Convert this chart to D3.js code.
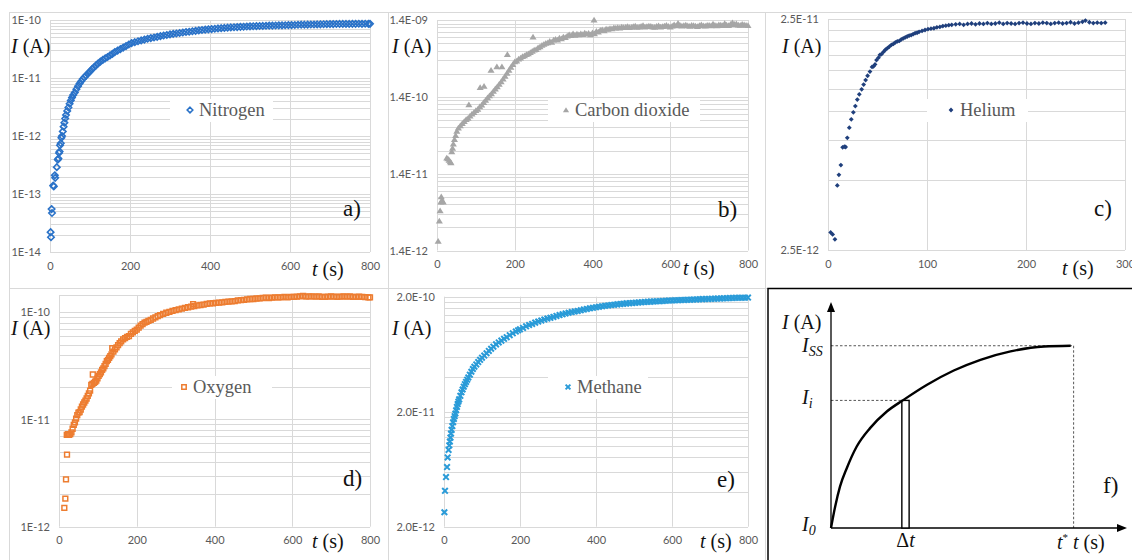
<!DOCTYPE html>
<html>
<head>
<meta charset="utf-8">
<script src="https://cdn.jsdelivr.net/npm/d3@7"></script>
<style>
  body { margin: 0; background: #fff; }
  svg { display: block; }
</style>
</head>
<body>
<svg id="chart" width="1132" height="560"></svg>
<script>
// ---- data: [t (s), I (A)] ----
const nitrogen = [[1.5,2.2e-14],[2.5,1.8e-14],[4,5.5e-14],[5,4.7e-14],[8,1.4e-13],[9.5,1.35e-13],[12,2.1e-13],[13,1.9e-13],
  [17,2.9e-13],[19.5,3.9e-13],[21,4.1e-13],[22.5,5.1e-13],[24,5.4e-13],[25,6.9e-13],[27,7.5e-13],[28.5,9.3e-13],[30,1.0e-12],
  [32,1.2e-12],[34,1.45e-12],[36,1.7e-12],[38,2.0e-12],[40,2.3e-12],[43,2.7e-12],[46,3.1e-12],[49,3.6e-12],[52,4.1e-12],
  [55,4.6e-12],[58,5.1e-12],[62,5.6e-12],[66,6.4e-12],[70,7.2e-12],[74,8.0e-12],[78,8.8e-12],[82,9.6e-12],[86,1.03e-11],
  [90,1.1e-11],[95,1.2e-11],[100,1.3e-11],[105,1.42e-11],[110,1.53e-11],[115,1.65e-11],[120,1.78e-11],[126,1.92e-11],
  [132,2.05e-11],[138,2.18e-11],[144,2.3e-11],[150,2.45e-11],[156,2.6e-11],[162,2.8e-11],[169,2.97e-11],[176,3.15e-11],
  [183,3.35e-11],[190,3.55e-11],[197,3.78e-11],[204,4.0e-11],[212,4.15e-11],[220,4.3e-11],[228,4.45e-11],[236,4.6e-11],
  [244,4.75e-11],[252,4.88e-11],[260,5.0e-11],[268,5.12e-11],[276,5.27e-11],[284,5.4e-11],[292,5.52e-11],[300,5.65e-11],
  [308,5.77e-11],[316,5.86e-11],[324,5.97e-11],[332,6.08e-11],[340,6.2e-11],[348,6.28e-11],[356,6.4e-11],[364,6.5e-11],
  [372,6.62e-11],[380,6.72e-11],[388,6.82e-11],[396,6.9e-11],[404,6.98e-11],[412,7.07e-11],[420,7.15e-11],[428,7.23e-11],
  [436,7.3e-11],[444,7.38e-11],[452,7.45e-11],[460,7.5e-11],[468,7.56e-11],[476,7.62e-11],[484,7.66e-11],[492,7.72e-11],
  [500,7.77e-11],[508,7.8e-11],[516,7.84e-11],[524,7.87e-11],[532,7.9e-11],[540,7.95e-11],[548,8.0e-11],[556,8.02e-11],
  [564,8.05e-11],[572,8.08e-11],[580,8.1e-11],[588,8.13e-11],[596,8.16e-11],[604,8.18e-11],[612,8.21e-11],[620,8.27e-11],
  [628,8.3e-11],[636,8.3e-11],[644,8.32e-11],[652,8.35e-11],[660,8.36e-11],[668,8.4e-11],[676,8.42e-11],[684,8.45e-11],
  [692,8.47e-11],[700,8.5e-11],[708,8.5e-11],[716,8.52e-11],[724,8.55e-11],[732,8.55e-11],[740,8.56e-11],[748,8.56e-11],
  [756,8.6e-11],[764,8.6e-11],[772,8.62e-11],[780,8.6e-11],[788,8.62e-11],[796,8.6e-11],[800,8.6e-11]];

const carbonDioxide = [[3,1.85e-12],[6,3.4e-12],[8,4.6e-12],[10,6.0e-12],[11,7.0e-12],[13,6.3e-12],[16,6.0e-12],
  [25,2.25e-11],[28,2.2e-11],[31,2.1e-11],[34,2.0e-11],[36,1.95e-11],[38,2.7e-11],[40,3.0e-11],[42,3.4e-11],[45,3.9e-11],
  [48,4.4e-11],[51,5.0e-11],[55,5.5e-11],[60,5.9e-11],[65,6.3e-11],[70,6.7e-11],[75,7.1e-11],[80,7.4e-11],[82,1.11e-10],
  [85,7.9e-11],[90,8.4e-11],[95,8.8e-11],[100,9.3e-11],[105,9.7e-11],[110,1.04e-10],[111,1.85e-10],[115,1.1e-10],
  [120,1.18e-10],[121,1.93e-10],[125,1.27e-10],[130,1.36e-10],[135,1.45e-10],[139,3.1e-10],[140,1.54e-10],[145,1.66e-10],
  [150,1.78e-10],[154,3.45e-10],[155,1.9e-10],[160,2.05e-10],[165,2.2e-10],[167,3.45e-10],[170,2.4e-10],[175,2.6e-10],
  [180,2.85e-10],[181,5.0e-10],[185,3.1e-10],[190,3.4e-10],[195,3.7e-10],[200,4.0e-10],[205,4.1e-10],[210,4.35e-10],
  [215,4.5e-10],[220,4.7e-10],[225,4.8e-10],[230,5.0e-10],[235,5.1e-10],[240,5.3e-10],[245,5.5e-10],[247,8.45e-10],
  [250,5.7e-10],[255,5.8e-10],[260,6.1e-10],[265,6.3e-10],[270,6.6e-10],[275,6.8e-10],[280,7.0e-10],[285,7.1e-10],
  [290,7.4e-10],[295,7.2e-10],[300,7.7e-10],[305,7.9e-10],[310,7.7e-10],[315,8.2e-10],[320,8.0e-10],[325,8.4e-10],
  [330,8.3e-10],[335,8.7e-10],[340,9.0e-10],[345,8.8e-10],[350,9.3e-10],[355,8.9e-10],[360,9.2e-10],[365,9.0e-10],
  [370,9.3e-10],[375,9.1e-10],[380,9.5e-10],[385,9.2e-10],[390,9.4e-10],[395,9.0e-10],[400,9.6e-10],[404,1.4e-9],
  [405,9.3e-10],[410,1.0e-9],[415,9.8e-10],[420,1.03e-9],[425,1.05e-9],[430,1.02e-9],[435,1.07e-9],[440,1.06e-9],
  [445,1.09e-9],[450,1.08e-9],[455,1.11e-9],[460,1.10e-9],[465,1.12e-9],[470,1.10e-9],[475,1.14e-9],[480,1.12e-9],
  [485,1.13e-9],[490,1.15e-9],[495,1.12e-9],[500,1.13e-9],[505,1.15e-9],[510,1.17e-9],[515,1.13e-9],[520,1.14e-9],
  [525,1.16e-9],[530,1.19e-9],[535,1.14e-9],[540,1.15e-9],[545,1.17e-9],[550,1.16e-9],[555,1.14e-9],[560,1.13e-9],
  [565,1.16e-9],[570,1.18e-9],[575,1.14e-9],[580,1.15e-9],[585,1.17e-9],[590,1.20e-9],[595,1.16e-9],[600,1.14e-9],
  [605,1.17e-9],[610,1.22e-9],[615,1.18e-9],[620,1.27e-9],[625,1.2e-9],[630,1.17e-9],[635,1.19e-9],[640,1.21e-9],
  [645,1.18e-9],[650,1.16e-9],[655,1.2e-9],[660,1.19e-9],[665,1.17e-9],[670,1.15e-9],[675,1.19e-9],[680,1.22e-9],
  [685,1.18e-9],[690,1.17e-9],[695,1.2e-9],[700,1.20e-9],[705,1.18e-9],[710,1.24e-9],[715,1.2e-9],[720,1.18e-9],
  [725,1.22e-9],[730,1.21e-9],[735,1.19e-9],[740,1.26e-9],[745,1.21e-9],[750,1.19e-9],[755,1.23e-9],[760,1.29e-9],
  [765,1.23e-9],[770,1.25e-9],[775,1.21e-9],[780,1.20e-9],[785,1.23e-9],[790,1.22e-9],[795,1.2e-9],[800,1.19e-9]];

const helium = [[2.7,2.98e-12],[4.7,2.92e-12],[7,2.78e-12],[9.4,4.76e-12],[11,5.29e-12],[13,5.83e-12],[14.8,6.96e-12],
  [16.5,7.0e-12],[17.8,6.98e-12],[19.5,7.65e-12],[21.5,8.46e-12],[23.5,9.2e-12],[25.6,9.86e-12],[27.6,1.05e-11],
  [29.6,1.12e-11],[31.6,1.18e-11],[34,1.24e-11],[36,1.30e-11],[38,1.36e-11],[40,1.42e-11],[42.4,1.48e-11],[44.5,1.55e-11],
  [46,1.56e-11],[47.5,1.59e-11],[49,1.66e-11],[51,1.70e-11],[52.5,1.75e-11],[54,1.76e-11],[56,1.80e-11],[58,1.84e-11],
  [60,1.87e-11],[62,1.90e-11],[64,1.93e-11],[66,1.95e-11],[68,1.98e-11],[70,2.0e-11],[72,2.01e-11],[74,2.04e-11],
  [76,2.06e-11],[78,2.08e-11],[80,2.1e-11],[82,2.12e-11],[84,2.13e-11],[86,2.15e-11],[88,2.17e-11],[90,2.18e-11],
  [92,2.2e-11],[95,2.22e-11],[98,2.24e-11],[101,2.26e-11],[104,2.27e-11],[107,2.28e-11],[110,2.30e-11],[113,2.31e-11],
  [116,2.33e-11],[119,2.34e-11],[122,2.35e-11],[125,2.36e-11],[129,2.37e-11],[133,2.38e-11],[137,2.36e-11],[141,2.38e-11],
  [145,2.39e-11],[149,2.37e-11],[153,2.39e-11],[157,2.38e-11],[161,2.40e-11],[165,2.38e-11],[169,2.39e-11],[173,2.41e-11],
  [177,2.38e-11],[181,2.40e-11],[185,2.39e-11],[189,2.38e-11],[193,2.40e-11],[197,2.41e-11],[201,2.39e-11],[205,2.38e-11],
  [209,2.40e-11],[213,2.39e-11],[217,2.41e-11],[221,2.40e-11],[225,2.38e-11],[229,2.40e-11],[233,2.41e-11],[237,2.39e-11],
  [241,2.40e-11],[245,2.42e-11],[249,2.39e-11],[253,2.41e-11],[257,2.43e-11],[260,2.46e-11],[264,2.42e-11],[268,2.40e-11],
  [272,2.41e-11],[276,2.40e-11],[280,2.41e-11]];

const oxygen = [[13.7,1.5e-12],[16.3,1.83e-12],[18,2.76e-12],[20.6,4.7e-12],[20,7.2e-12],[23,7.3e-12],[26,7.2e-12],
  [29,7.3e-12],[32,7.6e-12],[35,8.2e-12],[38,8.9e-12],[41,9.4e-12],[44,1.02e-11],[47,1.1e-11],[50,1.16e-11],[53,1.17e-11],
  [56,1.24e-11],[59,1.32e-11],[62,1.38e-11],[65,1.44e-11],[68,1.5e-11],[71,1.57e-11],[74,1.66e-11],[77,1.75e-11],
  [80,1.86e-11],[83,2.1e-11],[86,2.15e-11],[87,2.63e-11],[90,2.2e-11],[93,2.25e-11],[96,2.3e-11],[99,2.42e-11],
  [102,2.55e-11],[105,2.65e-11],[108,2.75e-11],[111,2.9e-11],[114,3.0e-11],[117,3.15e-11],[120,3.3e-11],[123,3.5e-11],
  [126,3.6e-11],[129,3.75e-11],[132,3.9e-11],[135,4.05e-11],[137,4.64e-11],[140,4.3e-11],[144,4.5e-11],[148,4.7e-11],
  [152,4.95e-11],[156,5.15e-11],[160,5.35e-11],[165,5.6e-11],[170,5.75e-11],[175,5.9e-11],[180,6.0e-11],[185,6.3e-11],
  [190,6.5e-11],[195,6.7e-11],[200,6.9e-11],[205,7.2e-11],[210,7.5e-11],[215,7.75e-11],[220,8.0e-11],[225,8.15e-11],
  [230,8.3e-11],[236,8.5e-11],[242,8.75e-11],[248,8.95e-11],[254,9.2e-11],[260,9.4e-11],[268,9.65e-11],[276,9.9e-11],
  [284,1.01e-10],[292,1.03e-10],[300,1.05e-10],[308,1.065e-10],[316,1.08e-10],[324,1.10e-10],[332,1.115e-10],
  [340,1.13e-10],[345,1.19e-10],[348,1.14e-10],[356,1.16e-10],[364,1.17e-10],[372,1.18e-10],[380,1.2e-10],[388,1.21e-10],
  [396,1.215e-10],[404,1.225e-10],[412,1.23e-10],[420,1.24e-10],[428,1.25e-10],[436,1.255e-10],[444,1.265e-10],
  [452,1.27e-10],[460,1.29e-10],[468,1.30e-10],[476,1.305e-10],[484,1.32e-10],[492,1.33e-10],[500,1.33e-10],
  [508,1.345e-10],[516,1.35e-10],[524,1.36e-10],[532,1.37e-10],[540,1.36e-10],[548,1.37e-10],[556,1.38e-10],
  [564,1.375e-10],[572,1.38e-10],[580,1.39e-10],[588,1.38e-10],[596,1.39e-10],[604,1.395e-10],[612,1.40e-10],
  [620,1.41e-10],[628,1.42e-10],[636,1.40e-10],[644,1.41e-10],[652,1.41e-10],[660,1.40e-10],[668,1.41e-10],
  [676,1.395e-10],[684,1.39e-10],[692,1.40e-10],[700,1.41e-10],[708,1.40e-10],[716,1.395e-10],[724,1.40e-10],
  [732,1.41e-10],[740,1.40e-10],[748,1.41e-10],[756,1.395e-10],[764,1.39e-10],[772,1.40e-10],[780,1.39e-10],
  [788,1.385e-10],[796,1.38e-10],[800,1.38e-10]];

const methane = [[1,2.67e-12],[2.6,4.1e-12],[5.3,5.4e-12],[8,6.6e-12],[9.6,8.0e-12],[12,9.3e-12],[14,1.02e-11],
  [15.5,1.1e-11],[17,1.19e-11],[18.5,1.29e-11],[20,1.39e-11],[22,1.5e-11],[24,1.62e-11],[26,1.73e-11],[28,1.83e-11],
  [30,1.93e-11],[32,2.06e-11],[34,2.2e-11],[36,2.33e-11],[38,2.45e-11],[40,2.56e-11],[43,2.75e-11],[46,2.95e-11],
  [49,3.12e-11],[52,3.3e-11],[55,3.47e-11],[58,3.63e-11],[61,3.8e-11],[64,3.97e-11],[68,4.2e-11],[72,4.45e-11],
  [76,4.7e-11],[80,4.92e-11],[85,5.15e-11],[90,5.4e-11],[95,5.65e-11],[100,5.9e-11],[106,6.15e-11],[112,6.45e-11],
  [118,6.75e-11],[124,7.05e-11],[130,7.35e-11],[137,7.7e-11],[144,8.0e-11],[151,8.3e-11],[158,8.6e-11],[165,8.9e-11],
  [173,9.25e-11],[181,9.6e-11],[189,9.95e-11],[195,1.02e-10],[200,1.04e-10],[208,1.07e-10],[216,1.105e-10],
  [224,1.135e-10],[232,1.16e-10],[240,1.19e-10],[248,1.215e-10],[256,1.24e-10],[264,1.265e-10],[272,1.29e-10],
  [280,1.31e-10],[288,1.335e-10],[296,1.36e-10],[304,1.385e-10],[312,1.405e-10],[320,1.43e-10],[328,1.45e-10],
  [336,1.47e-10],[344,1.49e-10],[352,1.505e-10],[360,1.525e-10],[368,1.545e-10],[376,1.565e-10],[384,1.585e-10],
  [392,1.60e-10],[400,1.62e-10],[408,1.635e-10],[416,1.65e-10],[424,1.665e-10],[432,1.68e-10],[440,1.69e-10],
  [448,1.705e-10],[456,1.715e-10],[464,1.725e-10],[472,1.74e-10],[480,1.75e-10],[488,1.758e-10],[496,1.766e-10],
  [504,1.774e-10],[512,1.782e-10],[520,1.79e-10],[528,1.798e-10],[536,1.805e-10],[544,1.812e-10],[552,1.82e-10],
  [560,1.825e-10],[568,1.83e-10],[576,1.837e-10],[584,1.844e-10],[592,1.85e-10],[600,1.855e-10],[608,1.86e-10],
  [616,1.866e-10],[624,1.872e-10],[632,1.876e-10],[640,1.88e-10],[648,1.884e-10],[656,1.888e-10],[664,1.894e-10],
  [672,1.90e-10],[680,1.905e-10],[688,1.909e-10],[696,1.913e-10],[704,1.917e-10],[712,1.921e-10],[720,1.925e-10],
  [728,1.93e-10],[736,1.937e-10],[744,1.942e-10],[752,1.946e-10],[760,1.95e-10],[768,1.954e-10],[776,1.958e-10],
  [784,1.96e-10],[792,1.962e-10],[800,1.965e-10]];

// axis ticks and labels
const timeTicks800 = [0, 200, 400, 600, 800];
const timeTicks300 = [0, 100, 200, 300];
const nitrogenTicks = [1e-14, 1e-13, 1e-12, 1e-11, 1e-10];
const nitrogenLabels = ['1E-14', '1E-13', '1E-12', '1E-11', '1E-10'];
const co2Ticks = [1.4e-12, 1.4e-11, 1.4e-10, 1.4e-9];
const co2Labels = ['1.4E-12', '1.4E-11', '1.4E-10', '1.4E-09'];
const heliumTicks = [2.5e-12, 2.5e-11];
const heliumLabels = ['2.5E-12', '2.5E-11'];
const oxygenTicks = [1e-12, 1e-11, 1e-10];
const oxygenLabels = ['1E-12', '1E-11', '1E-10'];
const methaneTicks = [2e-12, 2e-11, 2e-10];
const methaneLabels = ['2.0E-12', '2.0E-11', '2.0E-10'];

// schematic (panel f), in units where t* = 10 and I_SS = 1
const schemeCurve = [[0,0],[0.17,0.117],[0.37,0.227],[0.65,0.328],[1.06,0.447],[1.61,0.548],[2.30,0.639],
  [2.99,0.703],[3.96,0.786],[5.06,0.864],[6.16,0.923],[7.40,0.969],[8.78,0.996],[9.88,1.0]];
const schemeIss = 1.0;
const schemeIi = 0.70;
const schemeTStar = 10;
const schemeDt = [2.92, 3.22];

const SERIF = '"Liberation Serif","Times New Roman",Times,serif';
const SANS = 'Lato,Carlito,"Liberation Sans",sans-serif';
const GRID = '#d9d9d9';

const svg = d3.select('#chart');

// marker outlines, centred on 0,0
function markerPath(type, s) {
    if (type == 'diamond') return `M0,${-s}L${s},0L0,${s}L${-s},0Z`;
    if (type == 'square') return `M${-s},${-s}H${s}V${s}H${-s}Z`;
    if (type == 'triangle') return `M0,${-s}L${s * 1.1},${s * 0.8}L${-s * 1.1},${s * 0.8}Z`;
    // cross
    return `M${-s},${-s}L${s},${s}M${-s},${s}L${s},${-s}`;
}

function styleMarker(sel, p) {
    sel.attr('d', markerPath(p.marker, p.size))
        .attr('fill', p.filled ? p.color : 'none')
        .attr('stroke', p.filled ? 'none' : p.color)
        .attr('stroke-width', p.strokeWidth || 1.2);
}

// text like "I (A)" with the letter in italics
function quantityLabel(g, x, y, letter, unit, size) {
    let t = g.append('text').attr('x', x).attr('y', y)
        .style('font-family', SERIF).attr('font-size', size || 20).attr('fill', '#111');
    t.append('tspan').attr('font-style', 'italic').text(letter);
    if (unit) t.append('tspan').text(` (${unit})`);
    return t;
}

function drawLogPanel(p) {
    let g = svg.append('g');

    // panel frame
    g.append('rect').attr('x', p.frame[0] + 0.5).attr('y', p.frame[1] + 0.5)
        .attr('width', p.frame[2]).attr('height', p.frame[3])
        .attr('fill', 'none').attr('stroke', GRID);

    let x = d3.scaleLinear().domain([0, p.xMax]).range([p.left, p.right]);
    let y = d3.scaleLog().domain(p.yDomain).range([p.bottom, p.top]);

    // horizontal gridlines at every k * decade (Excel style)
    let levels = [];
    for (let d = p.yDomain[0]; d < p.yDomain[1] * 1.001; d *= 10) {
        for (let k = 1; k <= 9; k++) {
            if (k * d <= p.yDomain[1] * 1.001) levels.push(k * d);
        }
    }
    levels.push(p.yDomain[1]);
    g.append('g').selectAll('line').data(levels).join('line')
        .attr('x1', p.left).attr('x2', p.right)
        .attr('y1', d => Math.round(y(d)) + 0.5).attr('y2', d => Math.round(y(d)) + 0.5)
        .attr('stroke', GRID).attr('stroke-width', 1);

    g.append('g').selectAll('line').data(p.xTicks).join('line')
        .attr('x1', d => Math.round(x(d)) + 0.5).attr('x2', d => Math.round(x(d)) + 0.5)
        .attr('y1', p.top).attr('y2', p.bottom)
        .attr('stroke', GRID).attr('stroke-width', 1);

    // tick labels
    let yAxis = g.append('g').attr('transform', `translate(${p.left},0)`)
        .call(d3.axisLeft(y).tickValues(p.yTicks).tickFormat((d, i) => p.yLabels[i]).tickSize(0).tickPadding(9));
    let xAxis = g.append('g').attr('transform', `translate(0,${p.bottom})`)
        .call(d3.axisBottom(x).tickValues(p.xTicks).tickFormat(d3.format('d')).tickSize(0).tickPadding(10));
    [yAxis, xAxis].forEach(a => {
        a.select('.domain').remove();
        a.attr('font-family', null);
        a.selectAll('text').style('font-family', SANS).attr('font-size', 11).attr('fill', '#595959');
    });

    // the series
    g.append('g').selectAll('path').data(p.data).join('path')
        .attr('transform', d => `translate(${x(d[0])},${y(d[1])})`)
        .call(styleMarker, p);

    // legend
    let lg = g.append('g');
    lg.append('rect').attr('x', p.legend.x).attr('y', p.legend.y - 11)
        .attr('width', p.legend.w).attr('height', 23).attr('fill', '#fff');
    lg.append('path').attr('transform', `translate(${p.legend.x + p.legend.mark},${p.legend.y})`)
        .call(styleMarker, Object.assign({}, p, { size: p.legendSize || p.size }));
    lg.append('text').attr('x', p.legend.x + p.legend.mark + 9).attr('y', p.legend.y + 6)
        .style('font-family', SERIF).attr('font-size', 18.5).attr('fill', '#595959')
        .text(p.name);

    quantityLabel(g, p.iLabel[0], p.iLabel[1], 'I', 'A');
    quantityLabel(g, p.tLabel[0], p.tLabel[1], 't', 's');
    g.append('text').attr('x', p.tag[0]).attr('y', p.tag[1])
        .style('font-family', SERIF).attr('font-size', 23).attr('fill', '#111').text(p.tag[2]);
}

drawLogPanel({
    name: 'Nitrogen', data: nitrogen, marker: 'diamond', size: 3.2, legendSize: 2.8, filled: false,
    color: '#2a72c8', strokeWidth: 1.6,
    frame: [9, 12, 379, 276], left: 50, right: 370, top: 20, bottom: 252,
    xMax: 800, xTicks: timeTicks800, yDomain: [1e-14, 1e-10], yTicks: nitrogenTicks, yLabels: nitrogenLabels,
    legend: { x: 170, y: 110, w: 103, mark: 20 }, iLabel: [11, 53], tLabel: [312, 276], tag: [343, 216, 'a)']
});

drawLogPanel({
    name: 'Carbon dioxide', data: carbonDioxide, marker: 'triangle', size: 3.2, legendSize: 2.8, filled: true,
    color: '#a6a6a6',
    frame: [388, 12, 377, 276], left: 437, right: 748, top: 20, bottom: 250.5,
    xMax: 800, xTicks: timeTicks800, yDomain: [1.4e-12, 1.4e-9], yTicks: co2Ticks, yLabels: co2Labels,
    legend: { x: 548, y: 110, w: 152, mark: 18 }, iLabel: [392, 53], tLabel: [683, 275], tag: [718, 217, 'b)']
});

drawLogPanel({
    name: 'Helium', data: helium, marker: 'diamond', size: 2.4, filled: true, color: '#1f3f7c',
    frame: [765, 12, 380, 276], left: 828, right: 1125, top: 19, bottom: 250,
    xMax: 300, xTicks: timeTicks300, yDomain: [2.5e-12, 2.5e-11], yTicks: heliumTicks, yLabels: heliumLabels,
    legend: { x: 927, y: 110, w: 101, mark: 24 }, iLabel: [782, 53], tLabel: [1062, 275], tag: [1094, 216, 'c)']
});

drawLogPanel({
    name: 'Oxygen', data: oxygen, marker: 'square', size: 2.4, legendSize: 2.2, filled: false,
    color: '#ed7d31', strokeWidth: 1.5,
    frame: [9, 288, 379, 280], left: 59, right: 370, top: 295, bottom: 526.7,
    xMax: 800, xTicks: timeTicks800, yDomain: [1e-12, 1.45e-10], yTicks: oxygenTicks, yLabels: oxygenLabels,
    legend: { x: 172, y: 387, w: 100, mark: 12 }, iLabel: [11, 335], tLabel: [312, 548], tag: [343, 486, 'd)']
});

drawLogPanel({
    name: 'Methane', data: methane, marker: 'cross', size: 2.8, legendSize: 2.4, filled: false,
    color: '#2a9bd8', strokeWidth: 2.0,
    frame: [388, 288, 377, 280], left: 444, right: 748, top: 296.7, bottom: 526.7,
    xMax: 800, xTicks: timeTicks800, yDomain: [2e-12, 2e-10], yTicks: methaneTicks, yLabels: methaneLabels,
    legend: { x: 548, y: 387, w: 100, mark: 20 }, iLabel: [392, 335], tLabel: [700, 548], tag: [717, 487, 'e)']
});

// ---- panel f: schematic ----
function drawScheme() {
    let g = svg.append('g');
    g.append('rect').attr('x', 768).attr('y', 288.5).attr('width', 380).attr('height', 290)
        .attr('fill', '#fff').attr('stroke', '#000').attr('stroke-width', 1.5);

    let x = d3.scaleLinear().domain([0, 12.2]).range([831, 1127]);
    let y = d3.scaleLinear().domain([0, 1.24]).range([528, 302]);

    // dashed guides
    let dash = [[0, schemeIss, schemeTStar, schemeIss], [schemeTStar, schemeIss, schemeTStar, 0],
        [0, schemeIi, schemeDt[0], schemeIi]];
    g.append('g').selectAll('line').data(dash).join('line')
        .attr('x1', d => x(d[0])).attr('y1', d => y(d[1])).attr('x2', d => x(d[2])).attr('y2', d => y(d[3]))
        .attr('stroke', '#444').attr('stroke-width', 0.9).attr('stroke-dasharray', '2.5,2');

    // axes with arrowheads
    g.append('line').attr('x1', x(0)).attr('y1', y(0)).attr('x2', x(0)).attr('y2', y(1.24) + 8)
        .attr('stroke', '#000').attr('stroke-width', 1.3);
    g.append('line').attr('x1', x(0)).attr('y1', y(0)).attr('x2', x(12.2) - 8).attr('y2', y(0))
        .attr('stroke', '#000').attr('stroke-width', 1.3);
    g.append('path').attr('d', `M${x(0)},${y(1.24)}l-4,10h8z`).attr('fill', '#000');
    g.append('path').attr('d', `M${x(12.2)},${y(0)}l-10,-4v8z`).attr('fill', '#000');

    // the Δt strip
    g.append('rect').attr('x', x(schemeDt[0])).attr('y', y(schemeIi))
        .attr('width', x(schemeDt[1]) - x(schemeDt[0])).attr('height', y(0) - y(schemeIi))
        .attr('fill', '#fff').attr('stroke', '#000').attr('stroke-width', 1.4);

    g.append('path').datum(schemeCurve)
        .attr('d', d3.line().x(d => x(d[0])).y(d => y(d[1])).curve(d3.curveMonotoneX))
        .attr('fill', 'none').attr('stroke', '#000').attr('stroke-width', 2.4);

    quantityLabel(g, 782, 329, 'I', 'A');
    let sub = (label, s, yy) => {
        let t = quantityLabel(g, 802, yy, label, null);
        t.append('tspan').attr('font-style', 'italic').attr('font-size', 14).attr('dy', 4).text(s);
    };
    sub('I', 'SS', y(schemeIss) + 6);
    sub('I', 'i', y(schemeIi) + 4);
    sub('I', '0', y(0) + 3);

    let dt = g.append('text').attr('x', x((schemeDt[0] + schemeDt[1]) / 2)).attr('y', 547)
        .attr('text-anchor', 'middle').style('font-family', SERIF).attr('font-size', 20).attr('fill', '#111');
    dt.append('tspan').text('Δ');
    dt.append('tspan').attr('font-style', 'italic').text('t');

    let ts = quantityLabel(g, 1057, 549, 't', null);
    ts.append('tspan').attr('font-size', 11).attr('dy', -8).text('*');
    quantityLabel(g, 1073, 549, 't', 's');

    g.append('text').attr('x', 1103).attr('y', 493)
        .style('font-family', SERIF).attr('font-size', 23).attr('fill', '#111').text('f)');
}
drawScheme();
</script>
</body>
</html>
